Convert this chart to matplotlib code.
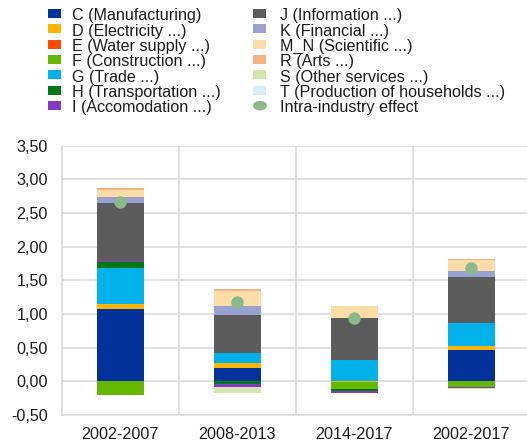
import numpy as np
import matplotlib
matplotlib.use("Agg")
import matplotlib.pyplot as plt
from matplotlib.patches import Rectangle, Ellipse
from matplotlib.ticker import FuncFormatter

plt.rcParams['font.family'] = ['Liberation Sans', 'DejaVu Sans']

periods = ["2002-2007", "2008-2013", "2014-2017", "2002-2017"]

sectors = ["C (Manufacturing)", "D (Electricity ...)", "E (Water supply ...)",
           "F (Construction ...)", "G (Trade ...)", "H (Transportation ...)",
           "I (Accomodation ...)", "J (Information ...)", "K (Financial ...)",
           "M_N (Scientific ...)", "R (Arts ...)", "S (Other services ...)",
           "T (Production of households ...)"]
colors = ["#003299", "#ffb400", "#ff4b00", "#65b800", "#00b1ea", "#007816",
          "#8139c6", "#5c5c5c", "#98a1d0", "#fddda7", "#f6b183", "#d4e5b0",
          "#d9edf8"]

# contributions by sector, one value per period
C = [1.075, 0.20, 0.0, 0.47]
D = [0.075, 0.075, -0.015, 0.06]
E = [0.0, 0.0, 0.0, 0.0]
F = [-0.21, 0.0, -0.10, -0.085]
G = [0.537, 0.145, 0.31, 0.335]
H = [0.09, -0.045, -0.03, 0.0]
I = [0.01, -0.045, -0.035, -0.015]
J = [0.857, 0.56, 0.63, 0.68]
K = [0.094, 0.145, 0.0, 0.09]
M_N = [0.109, 0.21, 0.175, 0.165]
R = [0.025, 0.03, 0.0, 0.02]
S = [0.0, -0.08, 0.0, -0.02]
T = [0.0, 0.0, 0.0, 0.0]
intra = [2.67, 1.18, 0.935, 1.68]

series = [C, D, E, F, G, H, I, J, K, M_N, R, S, T]

fig = plt.figure(figsize=(5.27, 4.41), dpi=100)
ax = fig.add_axes([0.1176, 0.059, 0.888, 0.6106])

x = np.arange(len(periods))
pos = np.zeros(len(periods))
neg = np.zeros(len(periods))
for vals, col in zip(series, colors):
    v = np.array(vals)
    bottom = np.where(v >= 0, pos, neg)
    ax.bar(x, v, 0.4, bottom=bottom, color=col, zorder=3, linewidth=0)
    pos += np.where(v >= 0, v, 0)
    neg += np.where(v < 0, v, 0)

ax.scatter(x, intra, s=80, color="#8cb88a", zorder=4, linewidths=0)

ax.set_xlim(-0.5, 3.5)
ax.set_ylim(-0.5, 3.5)
ax.set_yticks(np.arange(-0.5, 3.51, 0.5))
ax.yaxis.set_major_formatter(FuncFormatter(lambda v, p: f"{v:.2f}".replace(".", ",")))
ax.set_xticks(x)
ax.set_xticklabels(periods)
ax.tick_params(length=0, labelsize=11.6, colors="#1a1a1a")
ax.tick_params(axis="y", pad=10)
ax.tick_params(axis="x", pad=9)

ax.grid(axis="y", color="#d9d9d9", linewidth=1.1, zorder=0)
for sep in [0.5, 1.5, 2.5, 3.5]:
    ax.axvline(sep, color="#d9d9d9", linewidth=1.1, zorder=0)
for side in ["top", "right"]:
    ax.spines[side].set_visible(False)
for side in ["left", "bottom"]:
    ax.spines[side].set_color("#d9d9d9")
    ax.spines[side].set_linewidth(1.1)

# legend drawn by hand, two columns of seven rows
W, Hpx = 527.0, 441.0
row0, step = 13.5, 15.35
labels = sectors + ["Intra-industry effect"]
for k, lab in enumerate(labels):
    col, row = divmod(k, 7)
    hx = 48 if col == 0 else 253
    tx = 72 if col == 0 else 280
    yc = row0 + row * step
    if k < len(sectors):
        fig.add_artist(Rectangle((hx / W, 1 - (yc + 4.5) / Hpx), 13 / W, 9 / Hpx,
                                 transform=fig.transFigure, color=colors[k], lw=0))
    else:
        fig.add_artist(Ellipse(((hx + 7) / W, 1 - yc / Hpx), 14 / W, 9.5 / Hpx,
                               transform=fig.transFigure, color="#8cb88a", lw=0))
    fig.text(tx / W, 1 - (yc + 2.2) / Hpx, lab, fontsize=11.6, va="center",
             ha="left", color="#1a1a1a")

fig.savefig("out.png", dpi=100)
